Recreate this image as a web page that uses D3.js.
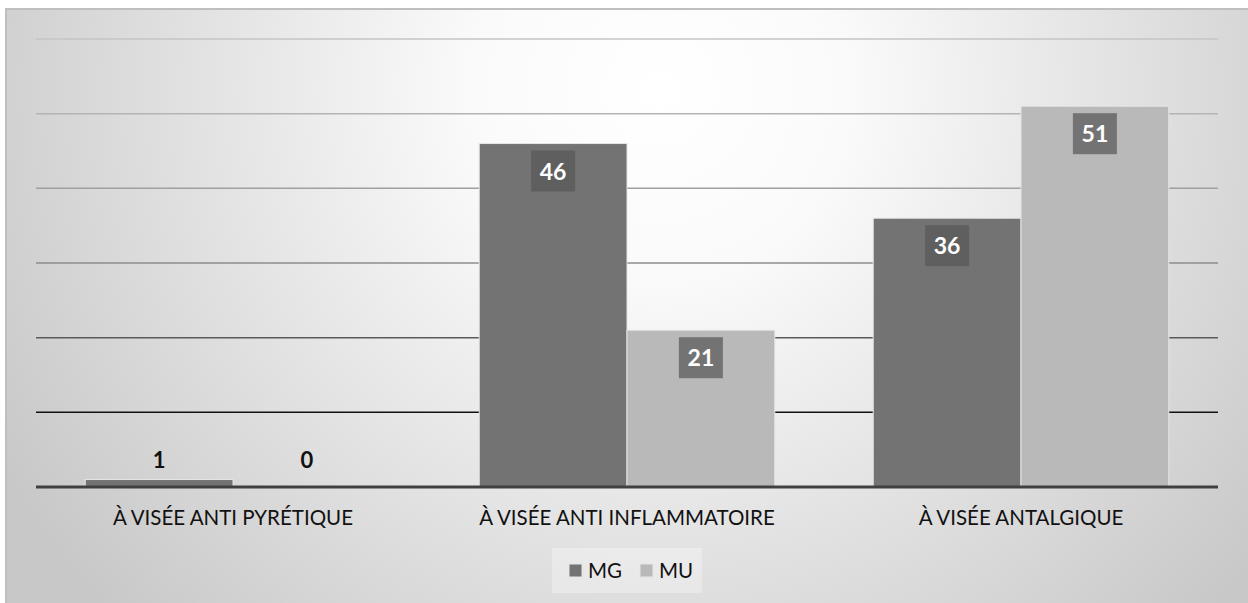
<!DOCTYPE html>
<html><head><meta charset="utf-8">
<script src="https://cdn.jsdelivr.net/npm/d3@7"></script>
<style>html,body{margin:0;padding:0;background:#fff;}svg{display:block;}</style>
</head><body>
<svg id="c" width="1248" height="603"></svg>
<script>
const categories = ["À VISÉE ANTI PYRÉTIQUE", "À VISÉE ANTI INFLAMMATOIRE", "À VISÉE ANTALGIQUE"];
const seriesNames = ["MG", "MU"];
const valuesMG = [1, 46, 36];
const valuesMU = [0, 21, 51];
const yTicks = [0, 10, 20, 30, 40, 50, 60];

const svg = d3.select("#c");
const W = 1248, H = 603;
const font = "Lato, 'Open Sans', sans-serif";

const defs = svg.append("defs");
const rg = defs.append("radialGradient").attr("id","bg")
  .attr("gradientUnits","userSpaceOnUse")
  .attr("cx", 660).attr("cy", 90).attr("r", 760);
rg.append("stop").attr("offset","0%").attr("stop-color","#ffffff");
rg.append("stop").attr("offset","25%").attr("stop-color","#fafafa");
rg.append("stop").attr("offset","100%").attr("stop-color","#c8c8c8");

svg.append("rect").attr("x",6).attr("y",9).attr("width",W+20).attr("height",H+20)
  .attr("fill","url(#bg)").attr("stroke","#bfbfbf").attr("stroke-width",2);

const plot = {left:36, right:1218, top:39, bottom:487};
const x0 = d3.scaleBand().domain(categories).range([plot.left, plot.right]).paddingInner(0).paddingOuter(0);
const x1 = d3.scaleBand().domain(seriesNames).range([0, x0.bandwidth()]).paddingInner(0).paddingOuter(0.333);
const y = d3.scaleLinear().domain([0, 60]).range([plot.bottom, plot.top]);

const gridColors = {10:"#111111",20:"#5a5a5a",30:"#8c8c8c",40:"#a0a0a0",50:"#b4b4b4",60:"#c4c4c4"};
svg.append("g").selectAll("line").data(yTicks.filter(t=>t>0)).join("line")
  .attr("x1", plot.left).attr("x2", plot.right)
  .attr("y1", d=>y(d)).attr("y2", d=>y(d))
  .attr("stroke", d=>gridColors[d]).attr("stroke-width", 1.5);

const colors = {MG:"#737373", MU:"#b9b9b9"};
const boxColors = {MG:"#5f5f5f", MU:"#737373"};
const data = categories.map((c,i)=>({cat:c, vals:[{s:"MG", v:valuesMG[i]},{s:"MU", v:valuesMU[i]}]}));

const g = svg.append("g");
data.forEach(d=>{
  d.vals.forEach(e=>{
    const bx = x0(d.cat) + x1(e.s);
    const bw = x1.bandwidth();
    if (e.v > 0) {
      g.append("rect").attr("x", bx).attr("y", y(e.v)).attr("width", bw).attr("height", y(0)-y(e.v))
        .attr("fill", colors[e.s]).attr("stroke","#e6e6e6").attr("stroke-width",1);
    }
    const cx = bx + bw/2;
    if (y(0) - y(e.v) > 60) {
      g.append("rect").attr("x", cx-22).attr("y", y(e.v)+7).attr("width",44).attr("height",41)
        .attr("fill", boxColors[e.s]);
      g.append("text").attr("x", cx).attr("y", y(e.v)+36).attr("text-anchor","middle")
        .attr("font-family", font).attr("font-weight","bold").attr("font-size",23)
        .attr("fill","#ffffff").text(e.v);
    } else {
      g.append("text").attr("x", cx).attr("y", Math.min(y(e.v), y(0)-7.5) - 12).attr("text-anchor","middle")
        .attr("font-family", font).attr("font-weight","bold").attr("font-size",22)
        .attr("fill","#111111").text(e.v);
    }
  });
});

// baseline
svg.append("line").attr("x1", plot.left).attr("x2", plot.right).attr("y1", y(0)).attr("y2", y(0))
  .attr("stroke","#404040").attr("stroke-width",3);

// category axis labels
const xAxis = d3.axisBottom(x0).tickSize(0).tickPadding(0);
const ax = svg.append("g").attr("transform", `translate(0,${y(0)})`).call(xAxis);
ax.select(".domain").remove();
ax.selectAll("text").attr("font-family", font).attr("font-size",20.5).attr("fill","#111")
  .attr("dy", null).attr("y", 38);

// legend
const lg = svg.append("g");
lg.append("rect").attr("x",552).attr("y",548).attr("width",150).attr("height",45)
  .attr("fill","#ffffff").attr("fill-opacity",0.3);
const lx = [569, 640];
seriesNames.forEach((s,i)=>{
  lg.append("rect").attr("x", lx[i]).attr("y", 564).attr("width",13).attr("height",13)
    .attr("fill", colors[s]).attr("stroke","#e6e6e6").attr("stroke-width",1);
  lg.append("text").attr("x", lx[i]+19).attr("y", 578).attr("font-family", font).attr("font-size",20.5)
    .attr("fill","#111").text(s);
});
</script>
</body></html>
